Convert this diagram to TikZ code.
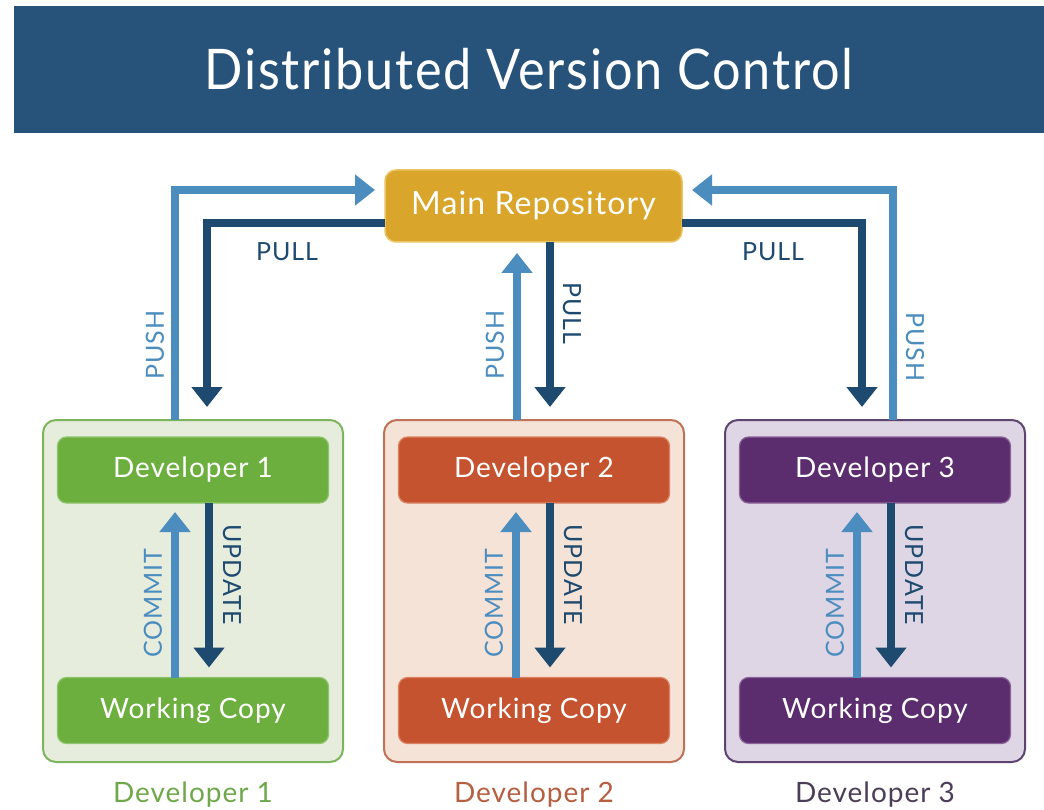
\documentclass[tikz,border=0pt]{standalone}
\usepackage{fontspec}
\setmainfont{Lato}[LetterSpace=3.5]
\usetikzlibrary{arrows.meta}

\definecolor{bannerblue}{HTML}{27527A}
\definecolor{pushblue}{HTML}{4C8DC0}
\definecolor{pullblue}{HTML}{1F4A70}
\definecolor{repofill}{HTML}{D9A52A}
\definecolor{repoline}{HTML}{EBC466}
\definecolor{gfill}{HTML}{E6EDDD}
\definecolor{gline}{HTML}{7DB55C}
\definecolor{gbox}{HTML}{6CAF3E}
\definecolor{gboxline}{HTML}{8FC56C}
\definecolor{gtext}{HTML}{6FA84A}
\definecolor{ofill}{HTML}{F5E3D7}
\definecolor{oline}{HTML}{BF7257}
\definecolor{obox}{HTML}{C5532F}
\definecolor{oboxline}{HTML}{DB8363}
\definecolor{otext}{HTML}{B55E40}
\definecolor{pfill}{HTML}{DED6E4}
\definecolor{pline}{HTML}{5E4470}
\definecolor{pbox}{HTML}{5C2D6E}
\definecolor{pboxline}{HTML}{8A6499}
\definecolor{ptext}{HTML}{4C3D58}

\begin{document}
\begin{tikzpicture}[x=1pt,y=-1pt,
  every node/.style={inner sep=0pt, outer sep=0pt},
  headband/.style={fill=bannerblue, minimum width=1030pt, minimum height=127pt,
    text=white, font=\fontsize{56}{60}\selectfont},
  repobox/.style={fill=repofill, draw=repoline, line width=1.5pt, rounded corners=11pt,
    minimum width=297pt, minimum height=72pt, text=white, font=\fontsize{32}{36}\selectfont},
  devarea/.style={fill=#1fill, draw=#1line, line width=2pt, rounded corners=13pt,
    minimum width=300pt, minimum height=342pt},
  devbox/.style={fill=#1box, draw=#1boxline, line width=1.2pt, rounded corners=9pt,
    minimum width=271pt, minimum height=66pt, text=white, font=\fontsize{28}{32}\selectfont},
  caption/.style={text=#1text, font=\fontsize{28}{32}\selectfont},
  flowlabel/.style={font=\fontsize{25}{29}\selectfont},
  pushline/.style={draw=pushblue, line width=7.5pt, -{Triangle[width=30pt,length=20pt]}},
  pullline/.style={draw=pullblue, line width=8pt, -{Triangle[width=30pt,length=20pt]}},
  pushlabel/.style={flowlabel, text=pushblue},
  pulllabel/.style={flowlabel, text=pullblue}
]
\useasboundingbox (0,0) rectangle (1044,810);
\fill[white] (0,0) rectangle (1044,810);

% title band
\node[headband] (title) at (529,69.5) {\scalebox{0.9}[1]{Distributed Version Control}};

% shared repository
\node[repobox] (repo) at (533.5,206) {Main Repository};

% developer columns
\foreach \i/\c/\x in {1/g/193, 2/o/534, 3/p/875} {
  \node[devarea=\c] (area\i) at (\x,591) {};
  \node[devbox=\c] (dev\i) at (\x,470) {Developer \i};
  \node[devbox=\c] (wc\i) at (\x,710.5) {Working Copy};
  \node[caption=\c] (cap\i) at (\x,795) {Developer \i};
  \coordinate (cm\i) at (\x-18,0);
  \coordinate (up\i) at (\x+16,0);
  \draw[pushline, shorten >=9pt] (wc\i.north -| cm\i) -- (dev\i.south -| cm\i);
  \draw[pullline, shorten >=10pt] (dev\i.south -| up\i) -- (wc\i.north -| up\i);
  \node[pushlabel, rotate=90] (commit\i) at (\x-40,603) {COMMIT};
  \node[pulllabel, rotate=-90] (update\i) at (\x+39,575) {UPDATE};
}

% left developer <-> repository
\coordinate (pushL) at (175,190);
\coordinate (pullL) at (207,223);
\draw[pushline, shorten >=10pt] (area1.north -| pushL) -- (pushL) -- (repo.west |- pushL);
\draw[pullline, shorten >=13pt] (repo.west |- pullL) -- (pullL) -- (area1.north -| pullL);
\node[pulllabel] (pullLtext) at (287,252) {PULL};
\node[pushlabel, rotate=90] (pushLtext) at (155,345) {PUSH};

% middle developer <-> repository
\coordinate (pushM) at (517,0);
\coordinate (pullM) at (550,0);
\draw[pushline, shorten >=11pt] (area2.north -| pushM) -- (repo.south -| pushM);
\draw[pullline, shorten >=13pt] (repo.south -| pullM) -- (area2.north -| pullM);
\node[pushlabel, rotate=90] (pushMtext) at (495,345) {PUSH};
\node[pulllabel, rotate=-90] (pullMtext) at (572,313) {PULL};

% right developer <-> repository
\coordinate (pushR) at (893,190);
\coordinate (pullR) at (862,223);
\draw[pushline, shorten >=10pt] (area3.north -| pushR) -- (pushR) -- (repo.east |- pushR);
\draw[pullline, shorten >=13pt] (repo.east |- pullR) -- (pullR) -- (area3.north -| pullR);
\node[pulllabel] (pullRtext) at (773,252) {PULL};
\node[pushlabel, rotate=-90] (pushRtext) at (915,347) {PUSH};
\end{tikzpicture}
\end{document}
